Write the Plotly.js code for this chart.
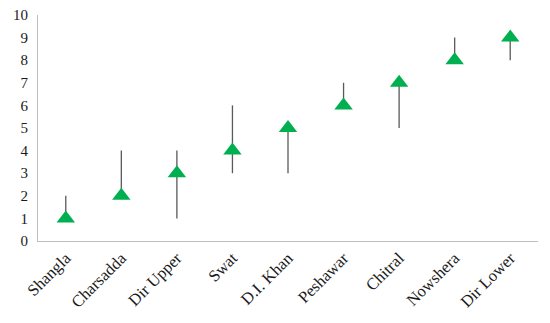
<!DOCTYPE html>
<html>
<head>
<meta charset="utf-8">
<script src="https://cdn.plot.ly/plotly-3.0.1.min.js"></script>
<style>html,body{margin:0;padding:0;background:#fff;}#chart{width:550px;height:323px;}</style>
</head>
<body>
<div id="chart"></div>
<script>
const districts = ["Shangla","Charsadda","Dir Upper","Swat","D.I. Khan","Peshawar","Chitral","Nowshera","Dir Lower"];
const rankValues = [1,2,3,4,5,6,7,8,9];
const highValues = [2,4,4,6,5,7,7,9,9];
const lowValues  = [1,2,1,3,3,6,5,8,8];

const plus = highValues.map((h,i)=>h-rankValues[i]);
const minus = lowValues.map((l,i)=>rankValues[i]-l);

const trace = {
  type: "scatter",
  mode: "markers",
  x: districts,
  y: rankValues,
  marker: {symbol: "triangle-up", size: 16, color: "#00B050"},
  error_y: {type: "data", symmetric: false, array: plus, arrayminus: minus, width: 0, thickness: 1.3, color: "#595959"},
  hoverinfo: "x+y"
};

const layout = {
  width: 550, height: 323,
  margin: {l: 38, r: 12, t: 15, b: 82},
  paper_bgcolor: "#fff", plot_bgcolor: "#fff",
  showlegend: false,
  font: {family: "Liberation Serif, DejaVu Serif, serif", size: 15, color: "#1a1a1a"},
  xaxis: {
    type: "category", tickangle: -45, showgrid: false, zeroline: false,
    showline: true, linecolor: "#bfbfbf", linewidth: 1, ticks: "",
    tickfont: {size: 16.5}, range: [-0.5, 8.5]
  },
  yaxis: {
    range: [0, 10], dtick: 1, showgrid: false, zeroline: false,
    showline: true, linecolor: "#bfbfbf", linewidth: 1, ticks: "",
    tickfont: {size: 15}, ticklabelstandoff: 6
  }
};

Plotly.newPlot("chart", [trace], layout, {displayModeBar: false, staticPlot: true});
</script>
</body>
</html>
